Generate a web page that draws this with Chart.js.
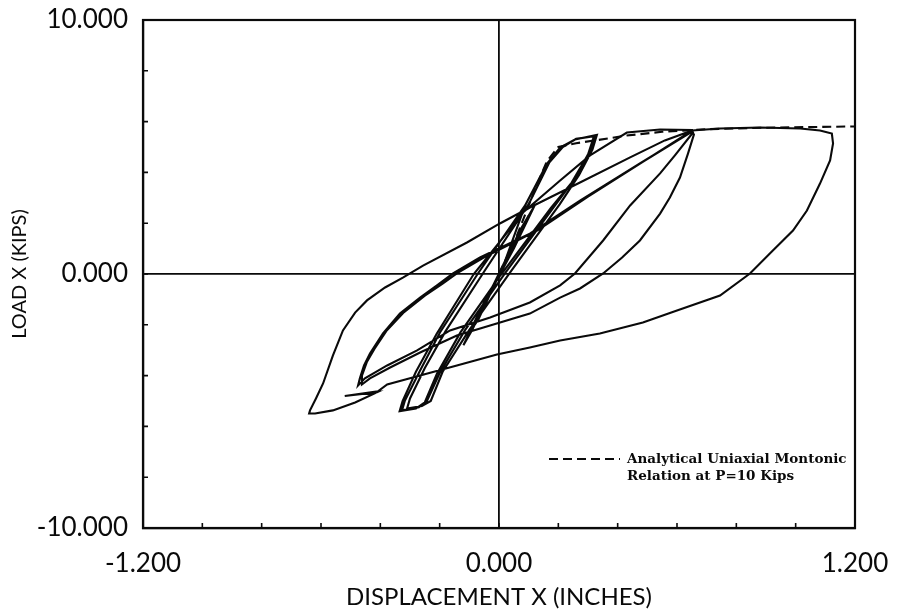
<!DOCTYPE html>
<html>
<head>
<meta charset="utf-8">
<script src="https://cdn.jsdelivr.net/npm/chart.js@4.4.0/dist/chart.umd.min.js"></script>
<style>
body { margin: 0; background: #fff; }
#wrap { width: 902px; height: 616px; position: relative; }
</style>
</head>
<body>
<div id="wrap"><canvas id="hysteresis"></canvas></div>
<script>
// labelled ticks (minor ticks every 0.2 in / 2 kips)
const xTickLabels = [-1.2, 0, 1.2];
const yTickLabels = [-10, 0, 10];
const legendLines = ['Analytical Uniaxial Montonic', 'Relation at P=10 Kips'];

// test record, [displacement (in), load (kips)], in loading order
const tinyCycles = [
  [0, 0], [0.05, 1.2], [0.1, 2.3], [0.07, 1.7], [0.01, 0.2], [-0.05, -1.1], [-0.1, -2.3], [-0.07, -1.8],
  [-0.01, -0.3], [0.05, 1.0], [0.12, 2.7], [0.09, 2.1], [0.03, 0.6], [-0.04, -0.9], [-0.12, -2.8],
  [-0.09, -2.2], [-0.03, -0.7]
];
const smallLoops = [
  [0.02, 0.5], [0.088, 2.7], [0.162, 4.35], [0.206, 4.98], [0.256, 5.3], [0.324, 5.45],
  [0.307, 4.86], [0.256, 3.76], [0.189, 2.7], [0.02, 0.02], [-0.115, -2.22], [-0.2, -3.9], [-0.243, -5.0],
  [-0.27, -5.25], [-0.327, -5.37],
  [-0.317, -4.98], [-0.266, -3.8], [-0.199, -2.3], [-0.071, 0.02], [0.088, 2.7], [0.162, 4.35],
  [0.206, 4.98], [0.256, 5.3], [0.33, 5.48],
  [0.315, 4.9], [0.27, 3.9], [0.205, 2.75], [0.04, 0.1], [-0.1, -2.2], [-0.19, -3.85], [-0.23, -5.0],
  [-0.26, -5.2], [-0.31, -5.3],
  [-0.3, -4.9], [-0.25, -3.7], [-0.18, -2.25], [-0.05, 0.1], [0.1, 2.75], [0.17, 4.4], [0.215, 5.0],
  [0.26, 5.32], [0.32, 5.42],
  [0.3, 4.7], [0.245, 3.6], [0.175, 2.6], [0.005, -0.05], [-0.13, -2.3], [-0.21, -3.95], [-0.25, -5.05],
  [-0.28, -5.3], [-0.335, -5.4],
  [-0.325, -5.0], [-0.28, -3.85], [-0.21, -2.35], [-0.085, 0.0], [0.02, 1.52], [0.081, 2.42],
  [0.206, 3.68], [0.307, 4.67], [0.431, 5.57], [0.543, 5.69], [0.651, 5.67]
];
const cycle2 = [
  [0.654, 5.57], [0.593, 4.67], [0.543, 3.96], [0.442, 2.7], [0.351, 1.32], [0.256, 0.02], [0.206, -0.45],
  [0.104, -1.12], [-0.03, -1.71], [-0.165, -2.22], [-0.276, -3.01], [-0.377, -3.6], [-0.452, -4.11],
  [-0.475, -4.39],
  [-0.469, -4.11], [-0.455, -3.6], [-0.435, -3.13], [-0.391, -2.34], [-0.334, -1.56], [-0.266, -0.93],
  [-0.209, -0.45], [-0.155, 0.02], [-0.064, 0.65], [0.104, 1.59], [0.273, 2.89], [0.475, 4.35], [0.651, 5.61],
  [0.657, 5.49], [0.637, 4.74], [0.61, 3.8], [0.576, 3.01], [0.543, 2.38], [0.475, 1.32], [0.415, 0.65],
  [0.351, 0.02], [0.273, -0.57], [0.206, -0.93], [0.104, -1.56], [-0.03, -2.03], [-0.142, -2.42],
  [-0.266, -3.09], [-0.367, -3.68], [-0.435, -4.11], [-0.462, -4.35],
  [-0.462, -4.0], [-0.445, -3.45], [-0.42, -2.95], [-0.38, -2.25], [-0.32, -1.5], [-0.25, -0.85],
  [-0.19, -0.38], [-0.135, 0.08], [-0.04, 0.72], [0.13, 1.72], [0.3, 3.05], [0.49, 4.45], [0.651, 5.65]
];
const cycle3 = [
  [0.745, 5.73], [0.88, 5.77], [1.015, 5.73], [1.082, 5.65], [1.122, 5.53],
  [1.126, 5.14], [1.116, 4.47], [1.082, 3.56], [1.038, 2.5], [0.991, 1.71], [0.913, 0.81], [0.846, 0.02],
  [0.745, -0.85], [0.6, -1.44], [0.485, -1.91], [0.34, -2.34], [0.206, -2.62], [0.104, -2.89],
  [-0.007, -3.17], [-0.142, -3.6], [-0.266, -4.0], [-0.377, -4.35], [-0.408, -4.62],
  [-0.52, -4.8], [-0.41, -4.65],
  [-0.485, -5.06], [-0.56, -5.37], [-0.62, -5.49], [-0.64, -5.49],
  [-0.637, -5.37], [-0.617, -4.9], [-0.593, -4.31], [-0.56, -3.21], [-0.526, -2.22], [-0.485, -1.52],
  [-0.445, -1.04], [-0.384, -0.53], [-0.324, -0.14], [-0.256, 0.33], [-0.108, 1.24], [0.003, 1.99],
  [0.104, 2.62], [0.273, 3.6], [0.442, 4.59], [0.559, 5.26], [0.651, 5.65]
];
// analytical monotonic curve (dashed)
const analytical = [
  [0, 0], [0.06, 1.5], [0.12, 3.3], [0.162, 4.45], [0.2, 5.0], [0.26, 5.15], [0.33, 5.27], [0.43, 5.45],
  [0.55, 5.6], [0.7, 5.7], [0.9, 5.76], [1.2, 5.81]
];

const testRecord = [].concat(tinyCycles, smallLoops, cycle2, cycle3);
function toPts(arr) { return arr.map(p => ({ x: p[0], y: p[1] })); }

const ink = '#0a0a0a';

// frame box + inward minor ticks
const frameTicks = {
  id: 'frameTicks',
  afterDraw(chart) {
    const { ctx, chartArea: a, scales } = chart;
    ctx.save();
    ctx.strokeStyle = ink;
    ctx.lineWidth = 2.2;
    ctx.strokeRect(a.left, a.top, a.right - a.left, a.bottom - a.top);
    ctx.lineWidth = 1.6;
    ctx.beginPath();
    scales.x.ticks.forEach(t => {
      const px = scales.x.getPixelForValue(t.value);
      ctx.moveTo(px, a.bottom); ctx.lineTo(px, a.bottom - 5);
    });
    scales.y.ticks.forEach(t => {
      const py = scales.y.getPixelForValue(t.value);
      ctx.moveTo(a.left, py); ctx.lineTo(a.left + 5, py);
    });
    ctx.stroke();
    ctx.restore();
  }
};

// note in the lower right corner
const noteLegend = {
  id: 'noteLegend',
  afterDraw(chart) {
    const { ctx, chartArea: a } = chart;
    const x0 = a.right - 306, y0 = a.bottom - 69;
    ctx.save();
    ctx.strokeStyle = ink;
    ctx.lineWidth = 1.9;
    ctx.setLineDash([9, 5]);
    ctx.beginPath(); ctx.moveTo(x0, y0); ctx.lineTo(x0 + 71, y0); ctx.stroke();
    ctx.setLineDash([]);
    ctx.fillStyle = ink;
    ctx.font = 'bold 13.5px "DejaVu Serif"';
    ctx.textBaseline = 'middle';
    ctx.fillText(legendLines[0], x0 + 78, y0);
    ctx.fillText(legendLines[1], x0 + 78, y0 + 17);
    ctx.restore();
  }
};

function pickLabel(list, v) {
  const hit = list.find(t => Math.abs(t - v) < 1e-6);
  return hit === undefined ? '' : hit.toFixed(3);
}

new Chart(document.getElementById('hysteresis'), {
  type: 'scatter',
  data: {
    datasets: [
      { label: 'Test', data: toPts(testRecord), showLine: true, borderColor: ink, borderWidth: 2.1,
        pointRadius: 0, tension: 0, fill: false },
      { label: 'Analytical', data: toPts(analytical), showLine: true, borderColor: ink, borderWidth: 2.1,
        borderDash: [9, 5], pointRadius: 0, tension: 0, fill: false }
    ]
  },
  options: {
    responsive: true,
    maintainAspectRatio: false,
    animation: false,
    layout: { padding: { top: 20, right: 47, left: 0, bottom: 0 } },
    plugins: { legend: { display: false }, tooltip: { enabled: false } },
    scales: {
      x: {
        type: 'linear', min: -1.2, max: 1.2,
        afterFit(s) { s.height = 88; s.paddingLeft = 0; s.paddingRight = 0; },
        ticks: { stepSize: 0.2, autoSkip: false, maxRotation: 0, padding: 20, color: ink,
          font: { family: 'Lato', size: 26 }, callback: v => pickLabel(xTickLabels, v) },
        grid: { drawTicks: false, lineWidth: 1.8,
          color: c => (c.tick && Math.abs(c.tick.value) < 1e-6) ? ink : 'rgba(0,0,0,0)' },
        border: { display: true, color: ink, width: 2.2 },
        title: { display: true, text: 'DISPLACEMENT X (INCHES)', color: ink,
          font: { family: 'Lato', size: 24 }, padding: { top: 0, bottom: 4 } }
      },
      y: {
        type: 'linear', min: -10, max: 10,
        afterFit(s) { s.width = 143; s.paddingTop = 0; s.paddingBottom = 0; },
        ticks: { stepSize: 2, autoSkip: false, padding: 15, color: ink,
          font: { family: 'Lato', size: 26 }, callback: v => pickLabel(yTickLabels, v) },
        grid: { drawTicks: false, lineWidth: 1.8,
          color: c => (c.tick && Math.abs(c.tick.value) < 1e-6) ? ink : 'rgba(0,0,0,0)' },
        border: { display: true, color: ink, width: 2.2 },
        title: { display: true, text: 'LOAD X (KIPS)', color: ink,
          font: { family: 'Lato', size: 20 }, padding: { top: 8, bottom: 0 } }
      }
    }
  },
  plugins: [frameTicks, noteLegend]
});
</script>
</body>
</html>
